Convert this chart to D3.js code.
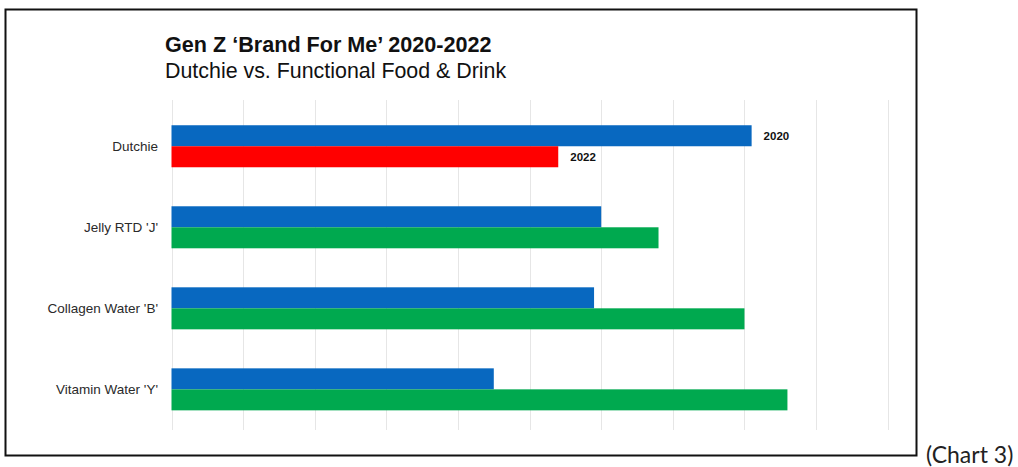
<!DOCTYPE html>
<html>
<head>
<meta charset="utf-8">
<script src="https://cdn.jsdelivr.net/npm/d3@7"></script>
<style>
  html, body { margin: 0; padding: 0; background: #fff; }
  svg { display: block; }
</style>
</head>
<body>
<svg id="chart" width="1018" height="467"></svg>
<script>
// ---- data ----
const categories = ["Dutchie", "Jelly RTD 'J'", "Collagen Water 'B'", "Vitamin Water 'Y'"];
const seriesNames = ["2020", "2022"];
const values2020 = [81, 60, 59, 45];
const values2022 = [54, 68, 80, 86];
const gridTicks = [0, 10, 20, 30, 40, 50, 60, 70, 80, 90, 100];
const titleText = "Gen Z \u2018Brand For Me\u2019 2020-2022";
const subtitleText = "Dutchie vs. Functional Food & Drink";
const captionText = "(Chart 3)";

// ---- styles ----
const BLUE = "#0868c0", RED = "#ff0000", GREEN = "#00a94f";
const FONT = "'Liberation Sans', Arial, sans-serif";

const svg = d3.select("#chart");

// frame
svg.append("rect")
  .attr("x", 5.5).attr("y", 9.5).attr("width", 911).attr("height", 446)
  .attr("fill", "none").attr("stroke", "#111").attr("stroke-width", 2);

// titles
svg.append("text").attr("x", 165).attr("y", 52)
  .attr("font-family", FONT).attr("font-weight", "bold").attr("font-size", 21.6)
  .attr("fill", "#111").text(titleText);
svg.append("text").attr("x", 165).attr("y", 78)
  .attr("font-family", FONT).attr("font-size", 21.4)
  .attr("fill", "#111").text(subtitleText);

// scales
const x = d3.scaleLinear().domain([0, 100]).range([171.5, 887.7]);
const y = d3.scaleBand().domain(categories).range([105.8, 429.8])
  .paddingInner(0.4815).paddingOuter(0.24);
const ySub = d3.scaleBand().domain(seriesNames).range([0, y.bandwidth()]);

// gridlines
const grid = svg.append("g");
grid.selectAll("line").data(gridTicks).join("line")
  .attr("x1", d => Math.round(x(d)) + 0.5).attr("x2", d => Math.round(x(d)) + 0.5)
  .attr("y1", 100).attr("y2", 430)
  .attr("stroke", "#e6e6e6").attr("stroke-width", 1);

// category axis labels
const yAxis = svg.append("g").attr("transform", "translate(158,0)")
  .call(d3.axisLeft(y).tickSize(0).tickPadding(0));
yAxis.select(".domain").remove();
yAxis.selectAll("text")
  .attr("font-family", FONT).attr("font-size", 13.5).attr("fill", "#2a2a2a");

// bars
const rows = categories.map((c, i) => ({
  cat: c,
  items: [
    { s: "2020", v: values2020[i], color: BLUE },
    { s: "2022", v: values2022[i], color: i === 0 ? RED : GREEN }
  ]
}));

const groups = svg.append("g").selectAll("g").data(rows).join("g")
  .attr("transform", d => `translate(0,${y(d.cat)})`);

groups.selectAll("rect").data(d => d.items).join("rect")
  .attr("x", x(0))
  .attr("y", d => ySub(d.s))
  .attr("width", d => x(d.v) - x(0))
  .attr("height", ySub.bandwidth())
  .attr("fill", d => d.color);

// year labels on the Dutchie row
groups.filter((d, i) => i === 0).selectAll("text.lbl").data(d => d.items).join("text")
  .attr("class", "lbl")
  .attr("x", d => x(d.v) + 12)
  .attr("y", d => ySub(d.s) + ySub.bandwidth() / 2)
  .attr("dy", "0.35em")
  .attr("font-family", FONT).attr("font-weight", "bold").attr("font-size", 11.5)
  .attr("fill", "#111").text(d => d.s);

// caption
svg.append("text").attr("x", 926).attr("y", 463)
  .attr("font-family", "Lato, 'Open Sans', sans-serif").attr("font-size", 23)
  .attr("fill", "#222").text(captionText);
</script>
</body>
</html>
